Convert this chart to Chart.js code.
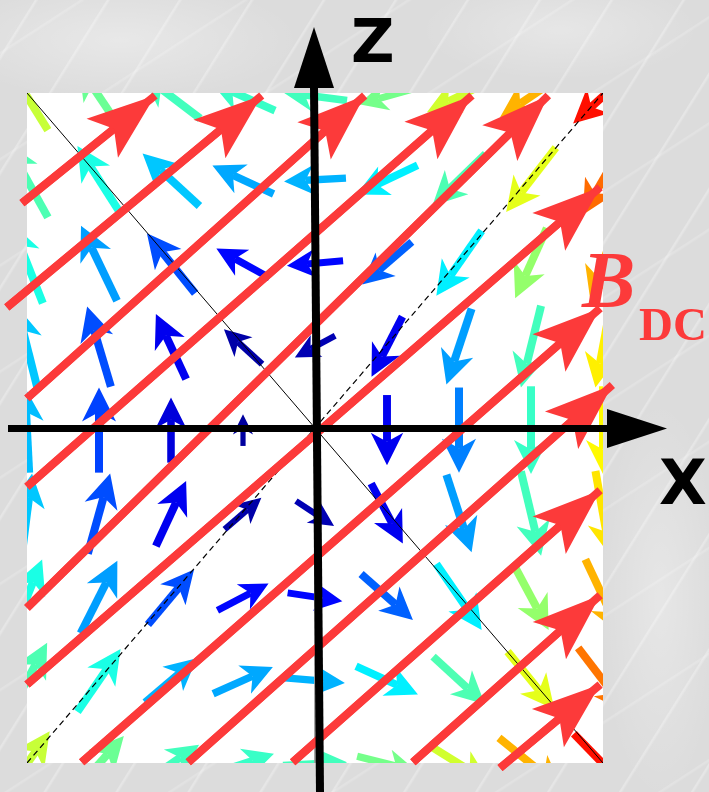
<!DOCTYPE html>
<html>
<head>
<meta charset="utf-8">
<script src="https://cdn.jsdelivr.net/npm/chart.js@4.4.1/dist/chart.umd.min.js"></script>
<style>
  html, body { margin: 0; padding: 0; }
  body {
    width: 709px; height: 792px; overflow: hidden; position: relative;
    background-color: #dcdcdc;
    background-image:
      radial-gradient(ellipse 180px 60px at 120px 40px, rgba(255,255,255,0.35), rgba(255,255,255,0)),
      radial-gradient(ellipse 140px 50px at 560px 30px, rgba(255,255,255,0.3), rgba(255,255,255,0)),
      radial-gradient(ellipse 60px 200px at 660px 600px, rgba(255,255,255,0.3), rgba(255,255,255,0)),
      repeating-linear-gradient(122deg, rgba(255,255,255,0) 0 29px, rgba(255,255,255,0.28) 30px 31px, rgba(255,255,255,0) 33px 61px),
      repeating-linear-gradient(147deg, rgba(255,255,255,0) 0 43px, rgba(255,255,255,0.18) 44px 45px, rgba(255,255,255,0) 47px 89px);
  }
  #plot { position: absolute; left: 0; top: 0; }
  .lbl { position: absolute; line-height: 1; white-space: nowrap; }
  .axis { font-family: "DejaVu Sans", sans-serif; font-weight: bold; color: #000; }
  .bdc { font-family: "Liberation Serif", serif; color: #fc3a3a; }
</style>
</head>
<body>
<canvas id="plot" width="709" height="792"></canvas>
<div class="lbl axis" style="left:351px; top:11px; font-size:60px;">Z</div>
<div class="lbl axis" style="left:659px; top:452px; font-size:62px;">X</div>
<div class="lbl bdc" style="left:582px; top:240px; font-size:80px; font-style:italic; font-weight:bold;">B</div>
<div class="lbl bdc" style="left:639px; top:301px; font-size:47px; font-weight:bold;">DC</div>
<script>
// grid of sample points (x across, z up)
const xCols = [-4, -3, -2, -1, 0, 1, 2, 3, 4];
const zRows = [4, 3, 2, 1, 0, -1, -2, -3, -4];

// field components at each grid point, rows from top (z = 4) to bottom (z = -4)
const fieldU = [
  [-0.58, -0.56, -0.81, -0.89, -0.89, -0.78, -0.89, -0.86, -0.83],
  [-0.58, -0.60, -0.79, -0.85, -0.86, -0.85, -0.74, -0.69, -0.56],
  [-0.44, -0.50, -0.67, -0.74, -0.78, -0.69, -0.63, -0.44, -0.35],
  [-0.28, -0.33, -0.42, -0.53, -0.56, -0.43, -0.35, -0.28, -0.21],
  [-0.06, 0.00, 0.00, 0.00, 0.00, 0.00, 0.00, 0.00, 0.00],
  [0.14, 0.31, 0.42, 0.51, 0.53, 0.44, 0.35, 0.28, 0.21],
  [0.42, 0.51, 0.64, 0.71, 0.76, 0.72, 0.63, 0.49, 0.49],
  [0.56, 0.60, 0.72, 0.83, 0.83, 0.86, 0.72, 0.65, 0.69],
  [0.63, 0.69, 0.78, 0.86, 0.89, 0.83, 0.86, 0.89, 0.81]
];
const fieldW = [
  [0.81, 0.72, 0.53, 0.34, 0.10, -0.19, -0.38, -0.50, -0.65],
  [0.90, 0.81, 0.63, 0.34, -0.04, -0.35, -0.62, -0.77, -0.84],
  [0.96, 0.90, 0.72, 0.35, -0.06, -0.51, -0.78, -0.84, -0.90],
  [0.96, 0.96, 0.78, 0.42, -0.26, -0.72, -0.91, -0.98, -0.98],
  [1.02, 1.02, 0.78, 0.38, -0.10, -0.84, -1.02, -1.05, -1.05],
  [0.96, 0.96, 0.78, 0.38, -0.30, -0.72, -0.93, -1.01, -1.02],
  [0.90, 0.87, 0.66, 0.32, -0.10, -0.55, -0.79, -0.79, -0.90],
  [0.90, 0.75, 0.53, 0.32, -0.06, -0.34, -0.57, -0.69, -0.78],
  [0.78, 0.67, 0.46, 0.24, 0.04, -0.18, -0.46, -0.62, -0.72]
];
// field strength (0..1 on the colour scale)
const fieldLevel = [
  [0.57, 0.48, 0.44, 0.43, 0.44, 0.49, 0.58, 0.70, 0.86],
  [0.45, 0.40, 0.32, 0.29, 0.30, 0.36, 0.45, 0.60, 0.77],
  [0.40, 0.28, 0.20, 0.13, 0.13, 0.22, 0.36, 0.52, 0.70],
  [0.32, 0.20, 0.11, 0.04, 0.05, 0.11, 0.28, 0.44, 0.64],
  [0.31, 0.19, 0.09, 0.03, 0.02, 0.11, 0.25, 0.43, 0.63],
  [0.32, 0.20, 0.11, 0.04, 0.05, 0.11, 0.28, 0.44, 0.65],
  [0.40, 0.28, 0.20, 0.13, 0.13, 0.22, 0.36, 0.52, 0.70],
  [0.45, 0.40, 0.30, 0.29, 0.30, 0.36, 0.45, 0.60, 0.76],
  [0.57, 0.48, 0.44, 0.43, 0.44, 0.49, 0.58, 0.70, 0.86]
];

// static B_DC field lines: tail and tip of each arrow
const dcTailX = [-4.07, -4.28, -4.00, -4.00, -4.00, -4.00, -3.24, -1.76, -0.31, 1.36, 2.57];
const dcTailZ = [2.72, 1.47, 0.38, -0.68, -2.13, -3.05, -3.98, -3.98, -3.98, -3.98, -4.05];
const dcTipX = [-2.22, -0.74, 0.69, 2.18, 3.24, 3.96, 3.96, 4.13, 3.96, 3.96, 3.96];
const dcTipZ = [4.01, 4.01, 4.01, 4.01, 4.01, 2.91, 1.46, 0.54, -0.72, -1.98, -3.05];

// axis range
const xMin = -4, xMax = 4;
const zMin = -3.99, zMax = 4.04;

const DC_RED = '#fc3a3a';

// jet colour map
function jet(v) {
  const c = t => Math.round(255 * Math.max(0, Math.min(1, t)));
  return 'rgb(' + c(1.5 - Math.abs(4 * v - 3)) + ',' + c(1.5 - Math.abs(4 * v - 2)) + ',' + c(1.5 - Math.abs(4 * v - 1)) + ')';
}

// filled arrow: shaft + notched head
function drawArrow(ctx, x0, y0, x1, y1, shaftW, headL, headHW, notch, color) {
  const dx = x1 - x0, dy = y1 - y0;
  const len = Math.hypot(dx, dy);
  if (len < 0.5) return;
  const ux = dx / len, uy = dy / len;
  const nx = -uy, ny = ux;
  headL = Math.min(headL, len);
  const bx = x1 - ux * headL, by = y1 - uy * headL;
  const mx = x1 - ux * (headL - notch), my = y1 - uy * (headL - notch);
  ctx.strokeStyle = color;
  ctx.fillStyle = color;
  ctx.lineWidth = shaftW;
  ctx.lineCap = 'butt';
  ctx.beginPath();
  ctx.moveTo(x0, y0);
  ctx.lineTo(mx, my);
  ctx.stroke();
  ctx.beginPath();
  ctx.moveTo(x1, y1);
  ctx.lineTo(bx + nx * headHW, by + ny * headHW);
  ctx.lineTo(mx, my);
  ctx.lineTo(bx - nx * headHW, by - ny * headHW);
  ctx.closePath();
  ctx.fill();
}

// grid points for the field arrows
const gridPoints = [];
zRows.forEach(function(z, r) {
  xCols.forEach(function(x, c) {
    gridPoints.push({ x: x, y: z, u: fieldU[r][c], w: fieldW[r][c], level: fieldLevel[r][c] });
  });
});

const dcDatasets = dcTailX.map(function(tx, i) {
  return {
    type: 'line',
    data: [{ x: tx, y: dcTailZ[i] }, { x: dcTipX[i], y: dcTipZ[i] }],
    borderColor: DC_RED,
    borderWidth: 8,
    borderCapStyle: 'butt',
    pointRadius: 0,
    clip: false,
    order: 1
  };
});

// field arrows go under everything, clipped to the white plot box
const quiverPlugin = {
  id: 'quiver',
  beforeDatasetsDraw(chart) {
    const ctx = chart.ctx, xs = chart.scales.x, ys = chart.scales.y, area = chart.chartArea;
    ctx.save();
    ctx.fillStyle = '#ffffff';
    ctx.fillRect(area.left, area.top, area.right - area.left, area.bottom - area.top);
    ctx.beginPath();
    ctx.rect(area.left, area.top, area.right - area.left, area.bottom - area.top);
    ctx.clip();
    gridPoints.forEach(function(p) {
      const x0 = xs.getPixelForValue(p.x - p.u / 2), y0 = ys.getPixelForValue(p.y - p.w / 2);
      const x1 = xs.getPixelForValue(p.x + p.u / 2), y1 = ys.getPixelForValue(p.y + p.w / 2);
      const len = Math.hypot(x1 - x0, y1 - y0);
      const headL = Math.min(34, 10 + 0.32 * len);
      const shaftW = Math.min(8, 3 + 0.07 * len);
      drawArrow(ctx, x0, y0, x1, y1, shaftW, headL, headL * 0.5, headL * 0.28, jet(p.level));
    });
    ctx.restore();
  },
  afterDatasetsDraw(chart) {
    const ctx = chart.ctx, xs = chart.scales.x, ys = chart.scales.y;
    ctx.save();
    // heads of the B_DC arrows
    dcTailX.forEach(function(tx, i) {
      const x0 = xs.getPixelForValue(tx), y0 = ys.getPixelForValue(dcTailZ[i]);
      const x1 = xs.getPixelForValue(dcTipX[i]), y1 = ys.getPixelForValue(dcTipZ[i]);
      drawArrow(ctx, x0, y0, x1, y1, 8, 68, 25, 15, DC_RED);
    });
    // X and Z axes
    const ox = xs.getPixelForValue(0), oy = ys.getPixelForValue(0);
    ctx.fillStyle = '#000';
    ctx.strokeStyle = '#000';
    ctx.lineCap = 'butt';
    ctx.lineWidth = 8;
    ctx.beginPath();
    ctx.moveTo(ox - 1, 86);
    ctx.lineTo(ox + 5, 792);
    ctx.stroke();
    ctx.beginPath();
    ctx.moveTo(ox - 1, 27);
    ctx.lineTo(ox - 21, 88);
    ctx.lineTo(ox + 19, 88);
    ctx.closePath();
    ctx.fill();
    ctx.lineWidth = 7;
    ctx.beginPath();
    ctx.moveTo(8, oy - 1.5);
    ctx.lineTo(609, oy - 1.5);
    ctx.stroke();
    ctx.beginPath();
    ctx.moveTo(667, oy - 1.5);
    ctx.lineTo(607, oy - 21);
    ctx.lineTo(607, oy + 18);
    ctx.closePath();
    ctx.fill();
    ctx.restore();
  }
};

new Chart(document.getElementById('plot'), {
  type: 'scatter',
  data: {
    datasets: [
      {
        data: gridPoints,
        pointRadius: 0,
        order: 3
      },
      {
        type: 'line',
        data: [{ x: 0, y: 0 }, { x: 0, y: zMin }],
        borderColor: '#9a9a9a',
        borderWidth: 1,
        pointRadius: 0,
        order: 2
      },
      {
        type: 'line',
        data: [{ x: xMin, y: zMax }, { x: xMax, y: zMin }],
        borderColor: '#000',
        borderWidth: 1,
        pointRadius: 0,
        order: 2
      },
      {
        type: 'line',
        data: [{ x: xMin, y: zMin }, { x: xMax, y: zMax }],
        borderColor: '#000',
        borderWidth: 1.2,
        borderDash: [6, 4],
        pointRadius: 0,
        order: 2
      }
    ].concat(dcDatasets)
  },
  options: {
    responsive: false,
    animation: false,
    devicePixelRatio: 1,
    layout: { padding: { left: 27, right: 106, top: 93, bottom: 29 } },
    scales: {
      x: { type: 'linear', min: xMin, max: xMax, display: false },
      y: { type: 'linear', min: zMin, max: zMax, display: false }
    },
    plugins: {
      legend: { display: false },
      tooltip: { enabled: false }
    }
  },
  plugins: [quiverPlugin]
});
</script>
</body>
</html>
